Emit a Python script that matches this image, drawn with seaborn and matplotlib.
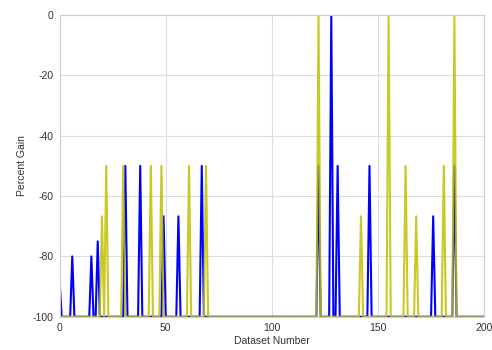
import numpy as np
import pandas as pd
import matplotlib
matplotlib.use("Agg")
import matplotlib.pyplot as plt
import seaborn as sns

# spikes; every other dataset sits at -100
n_datasets = 201
baseline = -100.0

blue_idx = [0, 6, 15, 18, 31, 38, 49, 56, 67, 122, 128, 131, 146, 176, 186]
blue_val = [-87.5, -80, -80, -75, -50, -50, -66.7, -66.7, -50,
            -50, 0, -50, -50, -66.7, -50]

yellow_idx = [20, 22, 30, 43, 48, 61, 69, 122, 142, 155, 163, 168, 181, 186]
yellow_val = [-66.7, -50, -50, -50, -50, -50, -50,
              0, -66.7, 0, -50, -66.7, -50, 0]


def build_series(idx, vals):
    '''Puts the spike values into a full series of baseline values.'''
    s = np.full(n_datasets, baseline)
    s[idx] = vals
    return s


df = pd.DataFrame({
    'Dataset Number': np.arange(n_datasets),
    'blue': build_series(blue_idx, blue_val),
    'yellow': build_series(yellow_idx, yellow_val),
})

sns.set_theme(style='whitegrid')
plt.rcParams['font.family'] = ['Liberation Sans', 'DejaVu Sans']
plt.rcParams['axes.unicode_minus'] = False

fig = plt.figure(figsize=(4.92, 3.5), dpi=100)
ax = fig.add_axes([0.121, 0.095, 0.863, 0.862])

sns.lineplot(data=df, x='Dataset Number', y='blue', color=(0, 0, 1),
             lw=1.5, ax=ax)
sns.lineplot(data=df, x='Dataset Number', y='yellow', color=(0.75, 0.75, 0),
             lw=1.5, alpha=0.85, ax=ax)

ax.set_xlim(0, 200)
ax.set_ylim(-100, 0)
ax.set_xticks([0, 50, 100, 150, 200])
ax.set_yticks([0, -20, -40, -60, -80, -100])
ax.set_xlabel('Dataset Number', fontsize=7.5, color='#333333', labelpad=2)
ax.set_ylabel('Percent Gain', fontsize=7.5, color='#333333', labelpad=4)
ax.tick_params(labelsize=7.5, colors='#333333', length=0)
ax.tick_params(axis='x', pad=4.5)
ax.tick_params(axis='y', pad=4.5)
ax.grid(color='#dddddd', lw=0.8)
for sp in ax.spines.values():
    sp.set_color('#cccccc')
    sp.set_linewidth(0.8)

fig.savefig('out.png', dpi=100)
